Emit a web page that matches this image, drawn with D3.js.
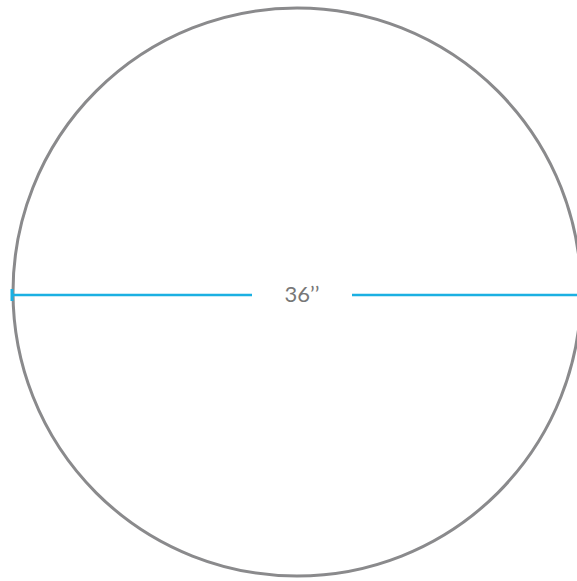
<!DOCTYPE html>
<html>
<head>
	<meta charset="utf-8">
	<title>Round Table 36</title>
	<style type="text/css">
		body { margin: 0; background: #fff; }
		svg { display: block; }
	</style>
	<script src="https://d3js.org/d3.v7.min.js"></script>
</head>
<body>
	<svg width="577" height="581"></svg>
	<script type="text/javascript">
		// table size in inches
		var diameters = [36];
		var labels = ['36\u2019\u2019'];

		var svgCanvas = d3.select('svg');
		var cx = 297, cy = 292, rPx = 284;

		// inches -> pixels across the table
		var xScale = d3.scaleLinear()
			.domain([-diameters[0] / 2, diameters[0] / 2])
			.range([cx - rPx, cx + rPx]);

		svgCanvas.selectAll('circle.top')
			.data(diameters)
			.enter()
			.append('circle')
			.attr('class', 'top')
			.attr('cx', xScale(0))
			.attr('cy', cy)
			.attr('r', (d) => xScale(d / 2) - xScale(0))
			.attr('fill', 'none')
			.attr('stroke', '#8a8a8c')
			.attr('stroke-width', 3);

		var lineY = 295;
		var blue = '#1bb0e2';

		// dimension line, split round the label
		svgCanvas.append('line')
			.attr('x1', xScale(-diameters[0] / 2))
			.attr('x2', xScale(0) - 45)
			.attr('y1', lineY).attr('y2', lineY)
			.attr('stroke', blue)
			.attr('stroke-width', 2.5);

		svgCanvas.append('line')
			.attr('x1', xScale(0) + 55)
			.attr('x2', xScale(diameters[0] / 2))
			.attr('y1', lineY).attr('y2', lineY)
			.attr('stroke', blue)
			.attr('stroke-width', 2.5);

		// end tick
		svgCanvas.append('line')
			.attr('x1', xScale(-diameters[0] / 2) - 1)
			.attr('x2', xScale(-diameters[0] / 2) - 1)
			.attr('y1', lineY - 6).attr('y2', lineY + 6)
			.attr('stroke', blue)
			.attr('stroke-width', 3);

		svgCanvas.append('text')
			.attr('x', xScale(0) + 5)
			.attr('y', 302)
			.attr('text-anchor', 'middle')
			.attr('font-family', 'Lato, "Open Sans", sans-serif')
			.attr('font-size', '22px')
			.attr('fill', '#777')
			.text(labels[0]);
	</script>
</body>
</html>
